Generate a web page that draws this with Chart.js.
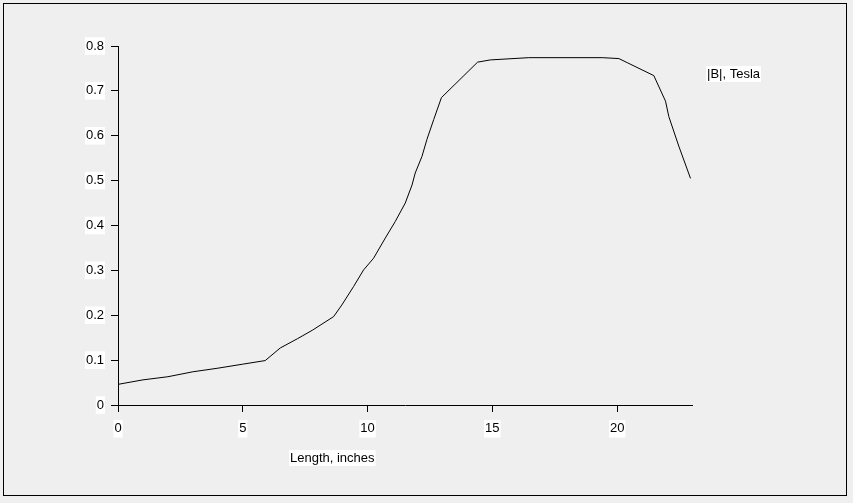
<!DOCTYPE html>
<html>
<head>
<meta charset="utf-8">
<script src="https://cdn.jsdelivr.net/npm/chart.js@4"></script>
<style>
  html, body { margin: 0; padding: 0; background: #efefef; }
  #wrap { width: 853px; height: 503px; }
</style>
</head>
<body>
<div id="wrap"><canvas id="fieldChart" width="853" height="503"></canvas></div>
<script>
// data
var lengthInches = [0, 1, 2, 3, 4, 5, 5.9, 6.5, 7.2, 7.8, 8.64, 8.97, 9.44, 9.84, 10.24, 10.71, 11.11, 11.51, 11.78, 11.91, 12.18, 12.38, 12.65, 12.96, 14.41, 14.92, 16.46, 19.4, 20.07, 20.4, 21.47, 21.94, 22.07, 22.47, 22.94];
var fieldTesla = [0.046, 0.056, 0.063, 0.074, 0.082, 0.091, 0.099, 0.127, 0.148, 0.167, 0.197, 0.223, 0.264, 0.301, 0.327, 0.372, 0.409, 0.45, 0.49, 0.517, 0.554, 0.592, 0.636, 0.685, 0.764, 0.769, 0.774, 0.774, 0.772, 0.763, 0.734, 0.677, 0.643, 0.577, 0.505];
var xTicks = [0, 5, 10, 15, 20];
var seriesName = '|B|, Tesla';
var xTitle = 'Length, inches';

var points = lengthInches.map((x, i) => ({ x: x, y: fieldTesla[i] }));
var labelFont = { family: 'Liberation Sans, Arial, sans-serif', size: 13 };

// frame, legend text and axis title
const decor = {
   id: 'decor',
   beforeDraw(chart) {
      const c = chart.ctx;
      c.save();
      c.fillStyle = '#efefef';
      c.fillRect(0, 0, chart.width, chart.height);
      c.strokeStyle = '#000';
      c.lineWidth = 1;
      c.strokeRect(3.5, 3.5, 843, 492);
      c.restore();
   },
   afterDraw(chart) {
      const c = chart.ctx;
      c.save();
      c.font = '13px Liberation Sans, Arial, sans-serif';
      c.textBaseline = 'middle';
      const drawLabel = (txt, x, y) => {
         const w = c.measureText(txt).width;
         c.fillStyle = '#ffffff';
         c.fillRect(x - 1, y - 8, w + 2, 16);
         c.fillStyle = '#000';
         c.fillText(txt, x, y);
      };
      drawLabel(seriesName, 707, 74);
      drawLabel(xTitle, 290, 458);
      c.restore();
   }
};

new Chart(document.getElementById('fieldChart'), {
   type: 'scatter',
   data: {
      datasets: [{
         label: seriesName,
         data: points,
         showLine: true,
         borderColor: '#000',
         borderWidth: 1,
         pointRadius: 0,
         tension: 0,
         fill: false
      }]
   },
   options: {
      responsive: false,
      animation: false,
      layout: { padding: { left: 0, top: 46, right: 161, bottom: 0 } },
      plugins: { legend: { display: false }, tooltip: { enabled: false } },
      scales: {
         x: {
            type: 'linear',
            min: 0,
            max: 23,
            afterBuildTicks: s => { s.ticks = xTicks.map(v => ({ value: v })); },
            afterFit: s => { s.height = 98; },
            border: { display: true, color: '#000', width: 1 },
            grid: { drawOnChartArea: false, drawTicks: true, tickLength: 7, color: '#000' },
            ticks: {
               color: '#000',
               font: labelFont,
               padding: 9,
               maxRotation: 0,
               showLabelBackdrop: true,
               backdropColor: '#ffffff',
               backdropPadding: 1
            }
         },
         y: {
            min: 0,
            max: 0.8,
            afterFit: s => { s.width = 118; },
            border: { display: true, color: '#000', width: 1 },
            grid: { drawOnChartArea: false, drawTicks: true, tickLength: 7, color: '#000' },
            ticks: {
               stepSize: 0.1,
               color: '#000',
               font: labelFont,
               padding: 7,
               showLabelBackdrop: true,
               backdropColor: '#ffffff',
               backdropPadding: 1,
               callback: v => Math.round(v * 10) / 10
            }
         }
      }
   },
   plugins: [decor]
});
</script>
</body>
</html>
